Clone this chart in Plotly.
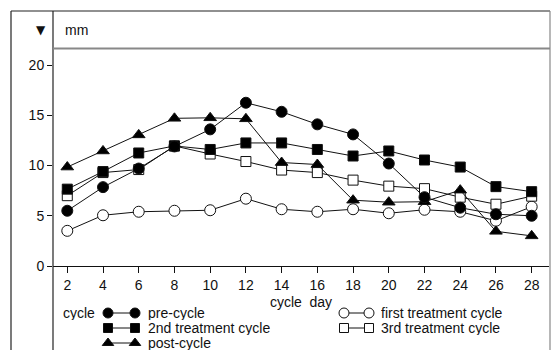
import plotly.graph_objects as go

days = [2, 4, 6, 8, 10, 12, 14, 16, 18, 20, 22, 24, 26, 28]
pre_cycle = [5.5, 7.85, 9.7, 11.9, 13.6, 16.25, 15.35, 14.1, 13.1, 10.2, 6.85, 5.8, 5.15, 5.0]
first_treatment = [3.5, 5.05, 5.4, 5.5, 5.55, 6.7, 5.65, 5.4, 5.65, 5.25, 5.6, 5.4, 4.5, 5.9]
second_treatment = [7.65, 9.4, 11.25, 11.95, 11.6, 12.25, 12.25, 11.6, 10.95, 11.45, 10.55, 9.85, 7.9, 7.4]
third_treatment = [7.0, 9.3, 9.6, 11.95, 11.15, 10.4, 9.55, 9.3, 8.55, 7.95, 7.7, 6.85, 6.15, 6.95]
post_cycle = [9.85, 11.45, 13.05, 14.7, 14.75, 14.65, 10.3, 10.1, 6.55, 6.35, 6.4, 7.55, 3.45, 3.0]

x_ticks = [2, 4, 6, 8, 10, 12, 14, 16, 18, 20, 22, 24, 26, 28]
y_ticks = [0, 5, 10, 15, 20]

series = [
    ("pre-cycle", pre_cycle, "circle", "black"),
    ("first treatment cycle", first_treatment, "circle", "white"),
    ("2nd treatment cycle", second_treatment, "square", "black"),
    ("3rd treatment cycle", third_treatment, "square", "white"),
    ("post-cycle", post_cycle, "triangle-up", "black"),
]
draw_order = [1, 3, 2, 4, 0]
sizes = {"circle": 11, "square": 10, "triangle-up": 11}

FONT = "Liberation Sans, Arial, Helvetica, sans-serif"
FS = 14
W, H = 551, 350
L, R, T = 53, 2, 48
AXIS_Y = 266
plot_h = H - T
main_bottom = (H - AXIS_Y) / plot_h

fig = go.Figure()
for i in draw_order:
    name, vals, sym, fill = series[i]
    fig.add_trace(go.Scatter(
        x=days, y=vals, mode="lines+markers", name=name, showlegend=False,
        line=dict(color="#111", width=1),
        marker=dict(symbol=sym, size=sizes[sym], color=fill,
                    line=dict(color="#111", width=1)),
        cliponaxis=False,
    ))

# legend drawn on a pixel-unit helper axis below the plot
legend_items = [
    ("pre-cycle", "circle", "black", 108, 135, 147, 313),
    ("2nd treatment cycle", "square", "black", 108, 135, 147, 328),
    ("post-cycle", "triangle-up", "black", 108, 135, 147, 343),
    ("first treatment cycle", "circle", "white", 344, 369, 380, 313),
    ("3rd treatment cycle", "square", "white", 344, 369, 380, 328),
]
for name, sym, fill, x0, x1, tx, y in legend_items:
    fig.add_trace(go.Scatter(
        x=[x0, x1], y=[y, y], mode="lines+markers", showlegend=False,
        xaxis="x2", yaxis="y2", hoverinfo="skip",
        line=dict(color="#111", width=1),
        marker=dict(symbol=sym, size=sizes[sym] - 1, color=fill,
                    line=dict(color="#111", width=1)),
        cliponaxis=False,
    ))
    fig.add_annotation(x=tx, y=y, xref="x2", yref="y2", text=name,
                       showarrow=False, xanchor="left", yanchor="middle",
                       height=14, borderpad=0,
                       font=dict(family=FONT, size=FS, color="#111"))
fig.add_annotation(x=62, y=313, xref="x2", yref="y2", text="cycle",
                   showarrow=False, xanchor="left", yanchor="middle",
                   height=14, borderpad=0,
                   font=dict(family=FONT, size=FS, color="#111"))

def px(x):
    return (x - L) / (W - L - R)

def py(y):
    return (H - y) / plot_h

shapes = [
    dict(type="line", xref="paper", yref="paper", x0=px(11), x1=px(11), y0=py(11), y1=py(351), line=dict(color="#222", width=1.2)),
    dict(type="line", xref="paper", yref="paper", x0=px(11), x1=px(550), y0=py(11), y1=py(11), line=dict(color="#222", width=1.2)),
    dict(type="line", xref="paper", yref="paper", x0=px(550), x1=px(550), y0=py(11), y1=py(351), line=dict(color="#888", width=1.2)),
    dict(type="line", xref="paper", yref="paper", x0=px(53), x1=px(53), y0=py(11), y1=py(351), line=dict(color="#222", width=1.2)),
    dict(type="line", xref="paper", yref="paper", x0=px(53), x1=px(550), y0=py(48.5), y1=py(48.5), line=dict(color="#888", width=2)),
]

fig.add_annotation(xref="paper", yref="paper", x=px(41), y=py(30), text="▼",
                   showarrow=False, xanchor="center", yanchor="middle",
                   font=dict(family="DejaVu Sans", size=12, color="#111"))
fig.add_annotation(xref="paper", yref="paper", x=px(63), y=py(30), text="mm",
                   showarrow=False, xanchor="left", yanchor="middle",
                   font=dict(family=FONT, size=FS, color="#111"))

fig.update_layout(
    template="none",
    width=W, height=H,
    margin=dict(l=L, r=R, t=T, b=0, pad=0, autoexpand=False),
    paper_bgcolor="white", plot_bgcolor="white",
    font=dict(family=FONT, size=FS, color="#111"),
    shapes=shapes,
    xaxis=dict(domain=[0, 1], anchor="y", range=[1.2, 28.97], tickvals=x_ticks,
               ticktext=[str(v) for v in x_ticks], automargin=False,
               showgrid=False, zeroline=False, showline=True, linecolor="#111",
               linewidth=1.2, ticks="outside", ticklen=6, tickcolor="#111",
               title=dict(text="cycle  day", standoff=5, font=dict(size=FS))),
    yaxis=dict(domain=[main_bottom, 1], anchor="x", range=[0, 21.7], tickvals=y_ticks,
               showgrid=False, zeroline=False, showline=False, automargin=False,
               ticks="outside", ticklen=5, tickcolor="#111"),
    xaxis2=dict(domain=[0, 1], anchor="y2", range=[L, W - R], visible=False, automargin=False),
    yaxis2=dict(domain=[0, main_bottom], anchor="x2", range=[H, AXIS_Y], visible=False, automargin=False),
)

fig.write_html(
    "out.html",
    config={"displayModeBar": False},
    post_script="document.body.style.margin='0';document.body.style.overflow='hidden';",
)
